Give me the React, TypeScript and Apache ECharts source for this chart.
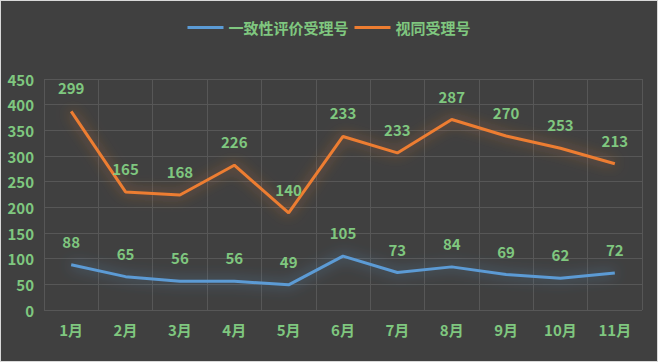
import React, { useEffect, useRef } from "react";
import * as echarts from "echarts";

const categories = ["1月", "2月", "3月", "4月", "5月", "6月", "7月", "8月", "9月", "10月", "11月"];
const consistencyValues = [88, 65, 56, 56, 49, 105, 73, 84, 69, 62, 72];
const equivalentValues = [299, 165, 168, 226, 140, 233, 233, 287, 270, 253, 213];
const seriesNames = ["一致性评价受理号", "视同受理号"];
const seriesColors = ["#5b9bd5", "#ed7d31"];

const GREEN = "#7fc77f";
const FONT = "'Noto Sans CJK SC', 'Noto Sans', sans-serif";

export default function App() {
  const ref = useRef<HTMLDivElement>(null);
  useEffect(() => {
    if (!ref.current) return;
    const chart = echarts.init(ref.current, undefined, { renderer: "svg" });
    const label = {
      show: true,
      position: "top" as const,
      distance: 16,
      color: GREEN,
      fontSize: 15,
      fontWeight: "bold" as const,
      fontFamily: FONT,
    };
    const mkSeries = (i: number, data: number[]) => ({
      name: seriesNames[i],
      type: "line",
      stack: "total",
      data,
      symbol: "circle",
      symbolSize: 0,
      showSymbol: true,
      color: seriesColors[i],
      itemStyle: { color: seriesColors[i], borderWidth: 0 },
      lineStyle: { width: 3, color: seriesColors[i], shadowBlur: 14, shadowColor: seriesColors[i] + "aa" },
      label,
      labelLayout: { hideOverlap: false },
    });
    chart.setOption({
      animation: false,
      backgroundColor: "#404040",
      legend: {
        top: 14,
        left: "center",
        icon: "rect",
        itemWidth: 36,
        itemHeight: 3,
        itemGap: 6,
        textStyle: { color: GREEN, fontSize: 15, fontWeight: "bold", fontFamily: FONT },
        data: seriesNames.map((n, i) => ({ name: n, itemStyle: { color: seriesColors[i] } })),
      },
      grid: { left: 43, right: 15, top: 78, bottom: 51 },
      xAxis: {
        type: "category",
        data: categories,
        boundaryGap: true,
        axisLine: { show: false },
        axisTick: { show: false },
        axisLabel: { color: GREEN, fontSize: 15, fontWeight: "bold", fontFamily: FONT, margin: 12 },
        splitLine: { show: true, lineStyle: { color: "#575757", width: 1 } },
      },
      yAxis: {
        type: "value",
        min: 0,
        max: 450,
        interval: 50,
        axisLine: { show: false },
        axisTick: { show: false },
        axisLabel: { color: GREEN, fontSize: 15, fontWeight: "bold", fontFamily: FONT, margin: 10 },
        splitLine: { show: true, lineStyle: { color: "#575757", width: 1 } },
      },
      series: [mkSeries(0, consistencyValues), mkSeries(1, equivalentValues)],
    });
    return () => chart.dispose();
  }, []);
  return (
    <div
      style={{
        position: "absolute",
        left: 0,
        top: 0,
        width: 658,
        height: 362,
        boxSizing: "border-box",
        border: "1px solid #d9d9d9",
        background: "#404040",
      }}
    >
      <div ref={ref} style={{ width: 656, height: 360 }} />
    </div>
  );
}
